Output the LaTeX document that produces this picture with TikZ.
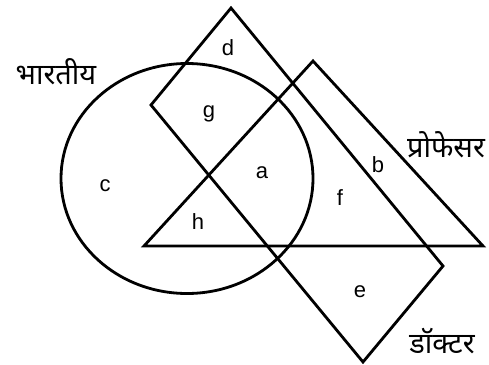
\documentclass[tikz,border=0pt]{standalone}
\usepackage{fontspec}
\setmainfont{Liberation Sans}
\newfontfamily\hindi[Script=Devanagari]{Noto Sans}
\begin{document}
\begin{tikzpicture}[x=1pt,y=-1pt,
  shapeline/.style={draw=black,line width=2.8pt,line join=miter},
  lbl/.style={font=\fontsize{22}{22}\selectfont,inner sep=0pt},
  setname/.style={font=\hindi\fontsize{29}{29}\selectfont,inner sep=0pt}]
\useasboundingbox (0,0) rectangle (489,364);
% circle: bhartiya
\draw[shapeline] (187,178.5) ellipse [x radius=126, y radius=115];
% triangle: professor
\coordinate (tA) at (313,61);
\coordinate (tL) at (144,246);
\coordinate (tR) at (483,246);
\draw[shapeline] (tA) -- (tR) -- (tL) -- cycle;
% quadrilateral: doctor
\coordinate (rT) at (231,8);
\coordinate (rR) at (443,266);
\coordinate (rB) at (363,362);
\coordinate (rL) at (151,105);
\draw[shapeline] (rT) -- (rR) -- (rB) -- (rL) -- cycle;
% set names
\node[setname] (nB) at (56,72) {भारतीय};
\node[setname] (nP) at (446,145) {प्रोफेसर};
\node[setname] (nD) at (442,341) {डॉक्टर};
% region labels
\node[lbl] (ld) at (228,48) {d};
\node[lbl] (lg) at (209,114) {g};
\node[lbl] (lc) at (105,186) {c};
\node[lbl] (la) at (262,173) {a};
\node[lbl] (lf) at (340,198) {f};
\node[lbl] (lb) at (378,165) {b};
\node[lbl] (lh) at (198,222) {h};
\node[lbl] (le) at (360,292) {e};
\end{tikzpicture}
\end{document}
